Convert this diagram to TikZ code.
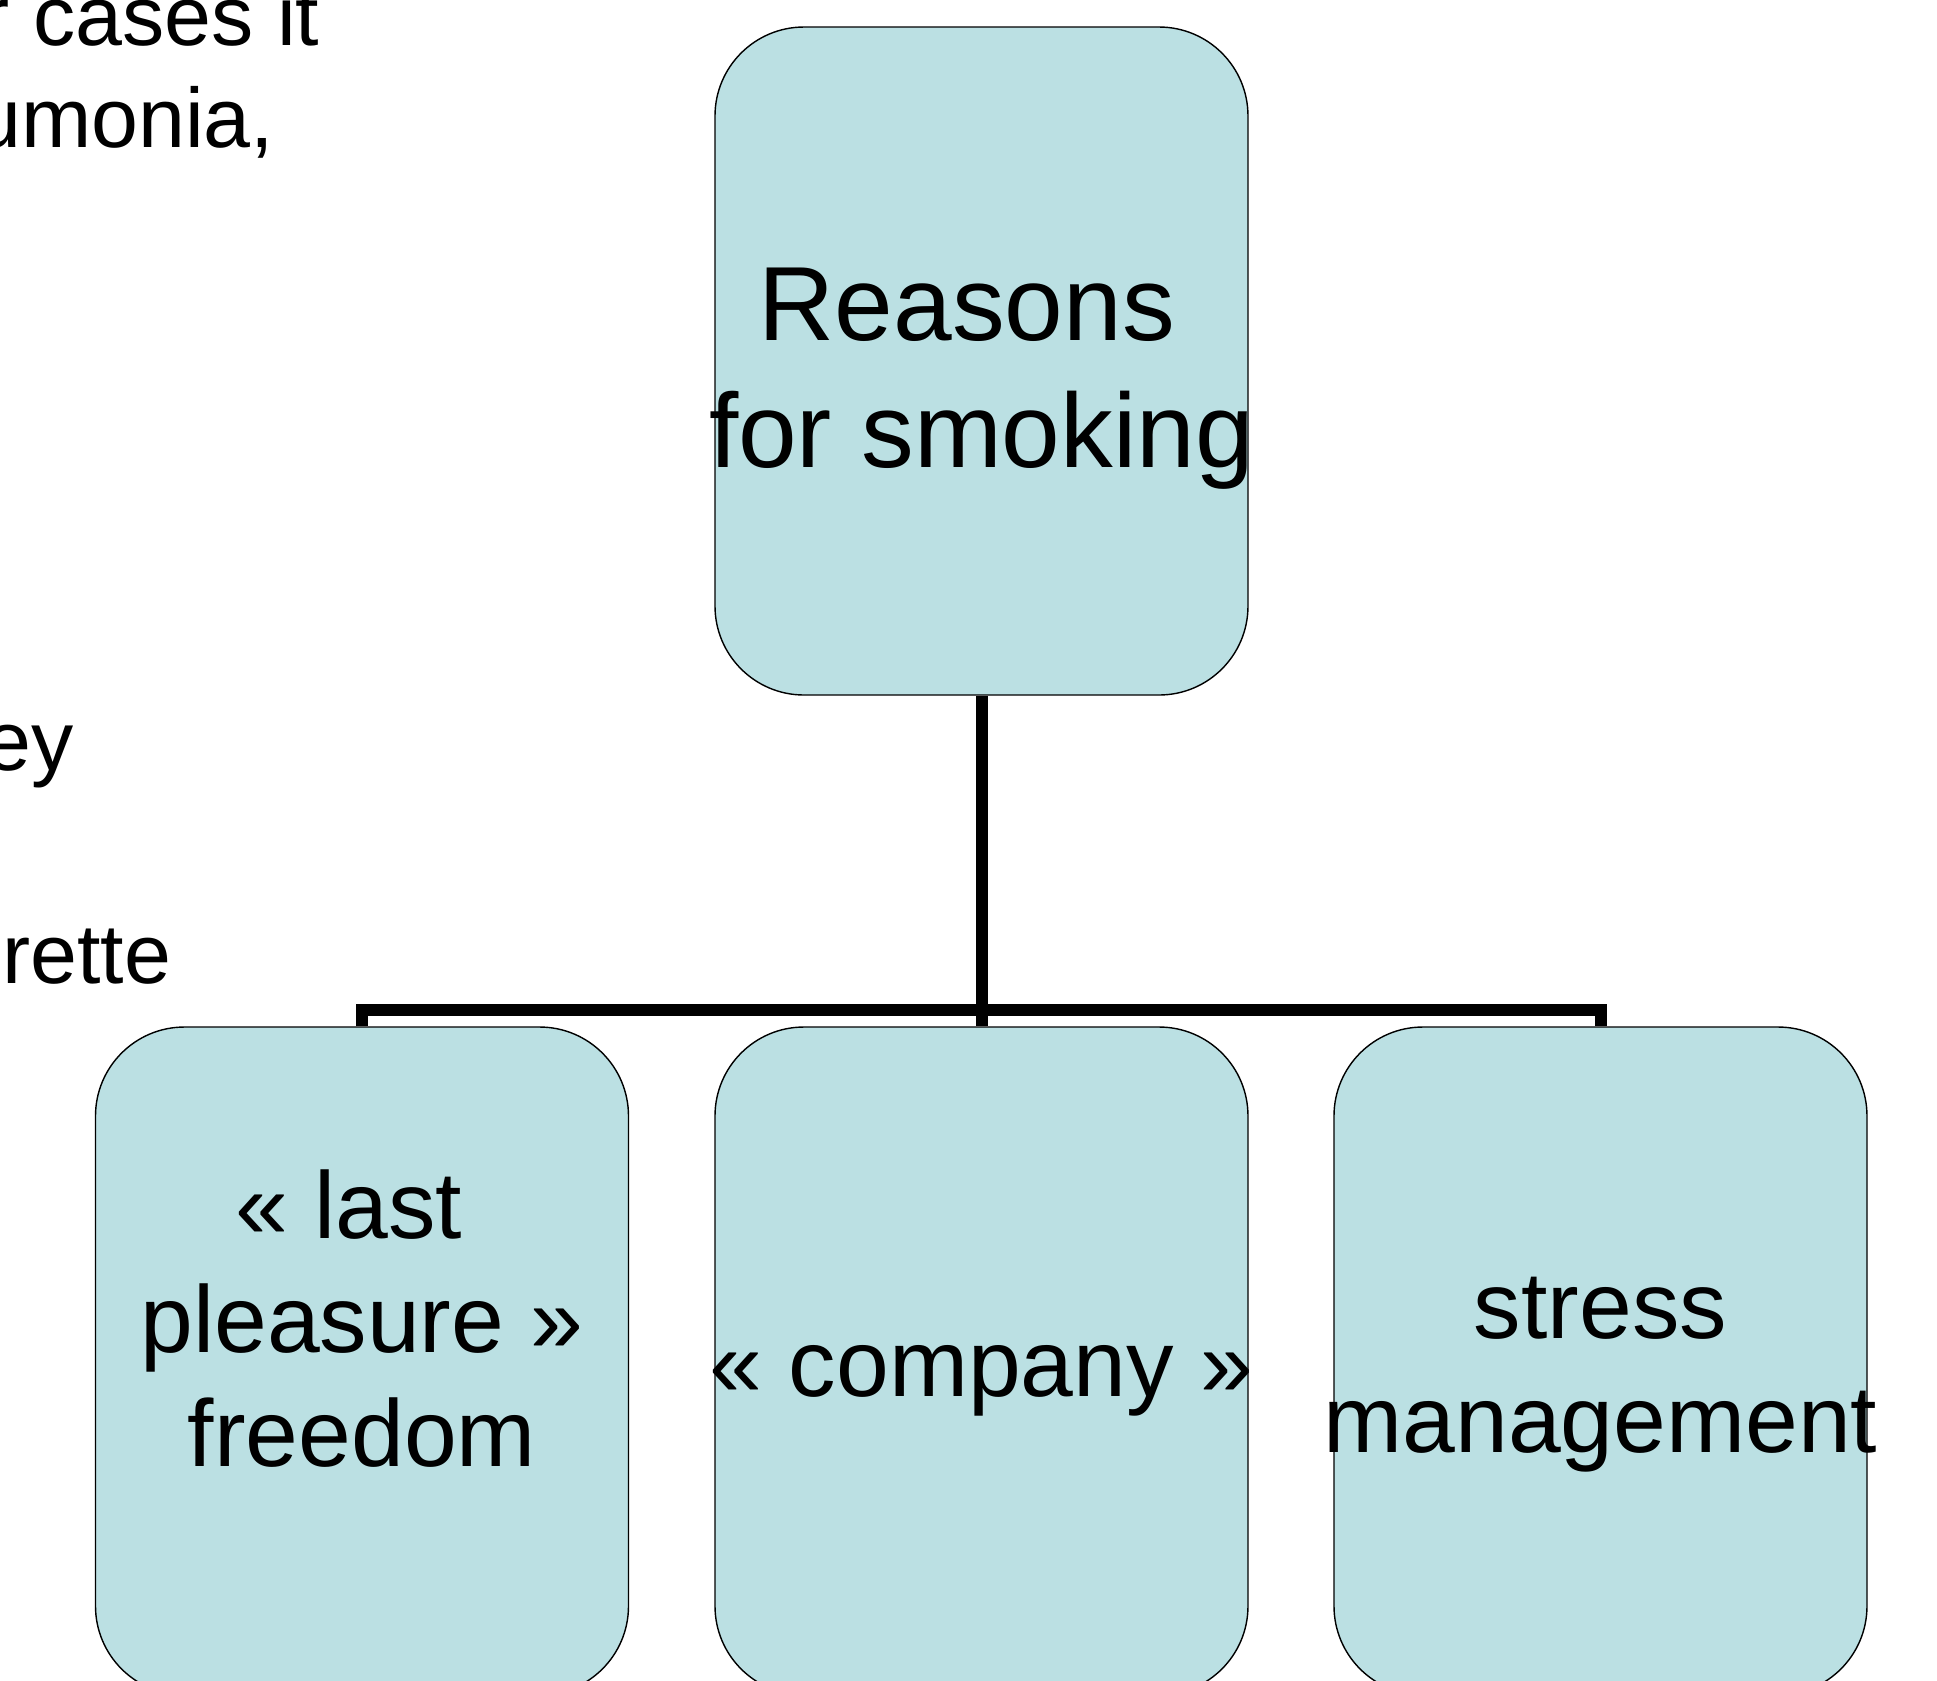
\documentclass[tikz,border=0pt]{standalone}
\usepackage{fontspec}
\setmainfont{Liberation Sans}
\definecolor{boxfill}{HTML}{BBE0E3}
\newcommand\spill[1]{\makebox[0pt]{#1}}

\begin{document}
\begin{tikzpicture}[
  x=0.1mm,y=-0.1mm,
  reason/.style={draw=black,line width=0.4pt,fill=boxfill,rounded corners=8.9mm,
    minimum width=53.3mm,minimum height=66.8mm,inner sep=0pt,align=center,
    text depth=0pt,font=\fontsize{27}{32.4}\selectfont},
  branch/.style={line width=1.2mm},
  slide/.style={anchor=base east,inner sep=0pt,font=\fontsize{24}{28.8}\selectfont}
]
\useasboundingbox (0,0) rectangle (1937,1680);
\clip (0,0) rectangle (1937,1680);
% bits of the slide text behind the chart
\node[slide] (cases) at (320,45) {r cases it};
\node[slide] (pneu) at (275,147) {umonia,};
\node[slide] (they) at (74,770) {ey};
\node[slide] (cig) at (172,983) {rette};
% chart (text height puts the last baseline below the centre)
\node[reason,font=\fontsize{30}{36}\selectfont,text height=21.2mm] (reasons)
  at (981.5,361) {\mbox{Reasons\ }\\\spill{for smoking}};
\node[reason,text height=21.1mm] (pleasure) at (362,1361)
  {\mbox{« last\ }\\pleasure »\\freedom};
\node[reason,text height=7mm] (company) at (981.5,1361) {\spill{« company »}};
\node[reason,text height=18.3mm] (stress) at (1600.5,1361)
  {stress\\\spill{management}};
\coordinate (fork) at (981.5,1009.5);
\draw[branch] (reasons.south) -- (company.north);
\draw[branch] (pleasure.north) |- (fork) -| (stress.north);
\end{tikzpicture}
\end{document}
